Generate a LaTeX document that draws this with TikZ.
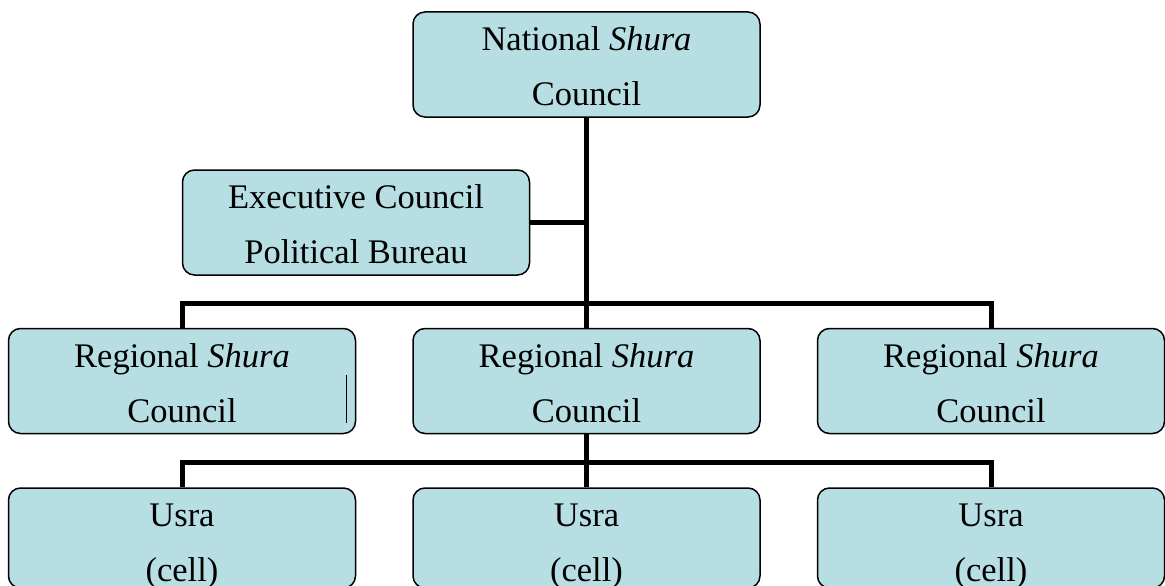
\documentclass[tikz,border=0pt]{standalone}
\usepackage{fontspec}
\setmainfont{Liberation Serif}
\usetikzlibrary{positioning,backgrounds}
\definecolor{DEFINE_BOX_COLOR}{HTML}{B7DFE3}
\tikzstyle{unit}=[rectangle, draw=black, line width=1.5pt, rounded corners=12pt, fill=DEFINE_BOX_COLOR, align=center, inner sep=0pt, minimum width=347pt, font=\fontsize{34.5}{55}\selectfont]
\tikzstyle{council}=[unit, minimum height=105pt, text height=93.5pt, text depth=11.5pt]
\tikzstyle{cell}=[unit, minimum height=100pt, text height=93pt, text depth=7pt]
\tikzstyle{link}=[line width=5pt]
\tikzstyle{caret}=[line width=1.5pt]

\begin{document}
\begin{tikzpicture}[x=1pt, y=1pt, node distance=210pt and 56pt]
      \useasboundingbox (0,0) rectangle (1165,-586);

      \node[council] (NAT) at (586.5,-64.5) {National \textit{Shura}\\Council};
      \node[council] (EXEC) at (356,-222.5) {Executive Council\\Political Bureau};

      %%%%%%%%%%%%%%%%%%%%%%%%%%%%%%%%%%%%%%%%%%%%%%%%%
      % REGIONAL SHURA
      %%%%%%%%%%%%%%%%%%%%%%%%%%%%%%%%%%%%%%%%%%%%%%%%%
      \node[council, below=of NAT]  (REG2) {Regional \textit{Shura}\\Council};
      \node[council, left=of REG2]  (REG1) {Regional \textit{Shura}\\Council};
      \node[council, right=of REG2] (REG3) {Regional \textit{Shura}\\Council};

      % USRA
      \node[cell, below=53pt of REG2] (USR2) {Usra\\(cell)};
      \node[cell, left=of USR2]       (USR1) {Usra\\(cell)};
      \node[cell, right=of USR2]      (USR3) {Usra\\(cell)};

      \draw[caret] ([xshift=-10pt,yshift=6.5pt]REG1.east) -- ([xshift=-10pt,yshift=-41.5pt]REG1.east);

      \begin{scope}[on background layer]
      \draw[link] (NAT) -- (REG2);
      \draw[link] (EXEC.east) -- (EXEC.east -| NAT.south);
      \draw[link] (REG1.north) -- ++(0,24) -| (REG3.north);
      \draw[link] (REG2) -- (USR2);
      \draw[link] (USR1.north) -- ++(0,25) -| (USR3.north);
      \end{scope}
\end{tikzpicture}
\end{document}
